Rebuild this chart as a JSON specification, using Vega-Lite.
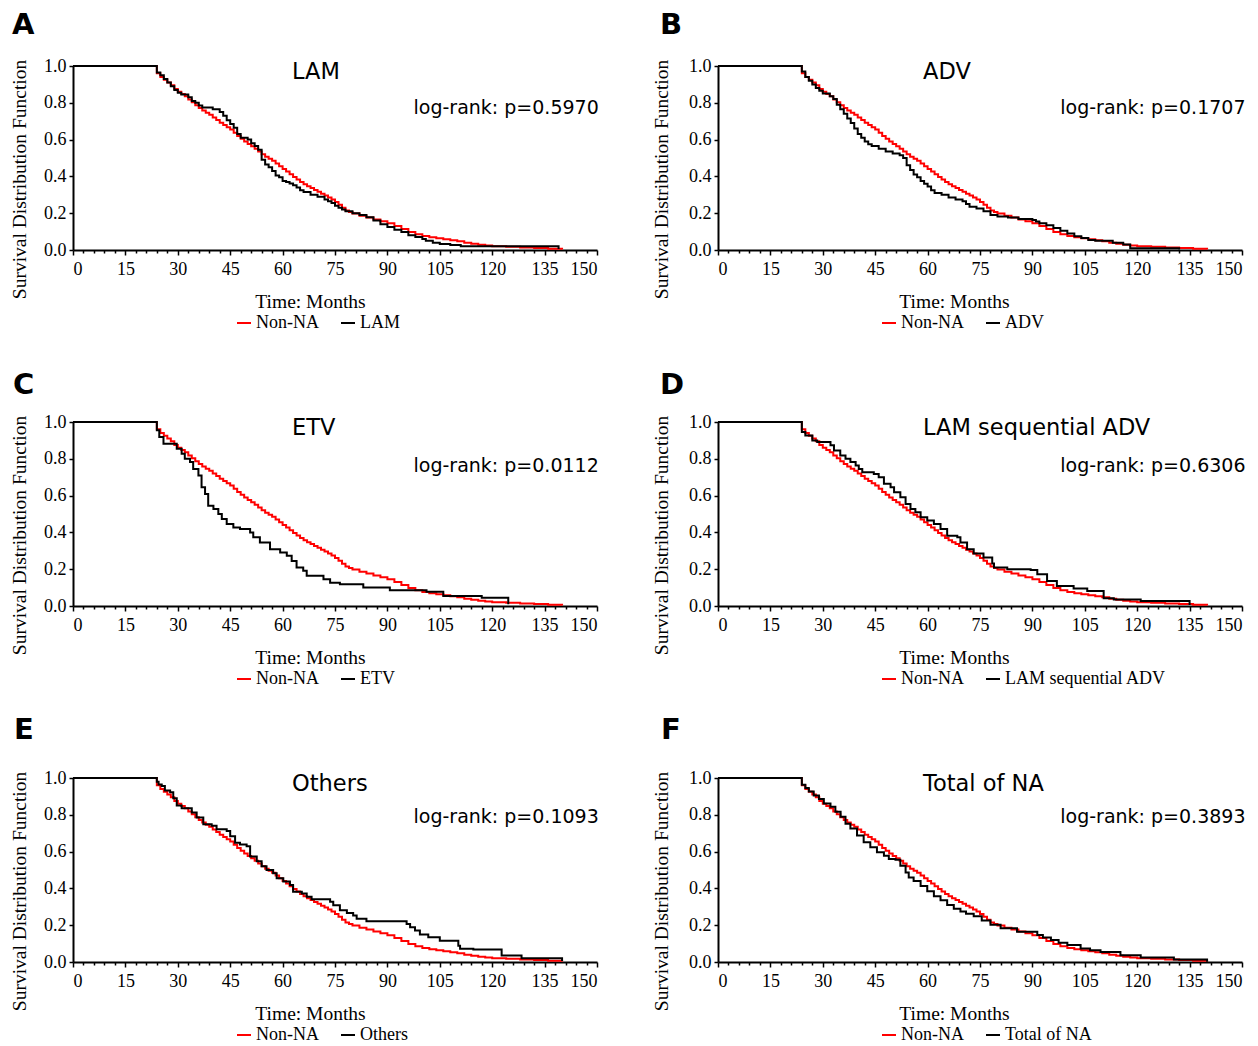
{
  "$schema": "https://vega.github.io/schema/vega-lite/v6.json",
  "padding": {"left": 8, "top": 11, "right": 0, "bottom": 0},
  "bounds": "flush",
  "columns": 2,
  "spacing": {"row": 172, "column": 121},
  "resolve": {"scale": {"color": "independent"}, "legend": {"color": "independent"}},
  "datasets": {
    "nonna": [
      {"g":"Non-NA","t":0,"s":1},{"g":"Non-NA","t":24,"s":0.96},{"g":"Non-NA","t":25,"s":0.94},{"g":"Non-NA","t":26,"s":0.925},{"g":"Non-NA","t":27,"s":0.91},{"g":"Non-NA","t":28,"s":0.895},{"g":"Non-NA","t":29,"s":0.875},{"g":"Non-NA","t":30,"s":0.86},{"g":"Non-NA","t":31,"s":0.848},{"g":"Non-NA","t":32,"s":0.835},{"g":"Non-NA","t":33,"s":0.818},{"g":"Non-NA","t":34,"s":0.803},{"g":"Non-NA","t":35,"s":0.787},{"g":"Non-NA","t":36,"s":0.772},{"g":"Non-NA","t":37,"s":0.758},{"g":"Non-NA","t":38,"s":0.746},{"g":"Non-NA","t":39,"s":0.735},{"g":"Non-NA","t":40,"s":0.72},{"g":"Non-NA","t":41,"s":0.706},{"g":"Non-NA","t":42,"s":0.692},{"g":"Non-NA","t":43,"s":0.68},{"g":"Non-NA","t":44,"s":0.667},{"g":"Non-NA","t":45,"s":0.655},{"g":"Non-NA","t":46,"s":0.637},{"g":"Non-NA","t":47,"s":0.62},{"g":"Non-NA","t":48,"s":0.605},{"g":"Non-NA","t":49,"s":0.59},{"g":"Non-NA","t":50,"s":0.576},{"g":"Non-NA","t":51,"s":0.564},{"g":"Non-NA","t":52,"s":0.55},{"g":"Non-NA","t":53,"s":0.535},{"g":"Non-NA","t":54,"s":0.52},{"g":"Non-NA","t":55,"s":0.507},{"g":"Non-NA","t":56,"s":0.496},{"g":"Non-NA","t":57,"s":0.485},{"g":"Non-NA","t":58,"s":0.47},{"g":"Non-NA","t":59,"s":0.455},{"g":"Non-NA","t":60,"s":0.44},{"g":"Non-NA","t":61,"s":0.426},{"g":"Non-NA","t":62,"s":0.412},{"g":"Non-NA","t":63,"s":0.397},{"g":"Non-NA","t":64,"s":0.383},{"g":"Non-NA","t":65,"s":0.37},{"g":"Non-NA","t":66,"s":0.358},{"g":"Non-NA","t":67,"s":0.347},{"g":"Non-NA","t":68,"s":0.337},{"g":"Non-NA","t":69,"s":0.326},{"g":"Non-NA","t":70,"s":0.316},{"g":"Non-NA","t":71,"s":0.306},{"g":"Non-NA","t":72,"s":0.296},{"g":"Non-NA","t":73,"s":0.286},{"g":"Non-NA","t":74,"s":0.274},{"g":"Non-NA","t":75,"s":0.261},{"g":"Non-NA","t":76,"s":0.246},{"g":"Non-NA","t":77,"s":0.23},{"g":"Non-NA","t":78,"s":0.215},{"g":"Non-NA","t":79,"s":0.206},{"g":"Non-NA","t":80,"s":0.198},{"g":"Non-NA","t":82,"s":0.186},{"g":"Non-NA","t":84,"s":0.176},{"g":"Non-NA","t":86,"s":0.166},{"g":"Non-NA","t":88,"s":0.156},{"g":"Non-NA","t":90,"s":0.145},{"g":"Non-NA","t":92,"s":0.13},{"g":"Non-NA","t":94,"s":0.114},{"g":"Non-NA","t":96,"s":0.098},{"g":"Non-NA","t":98,"s":0.086},{"g":"Non-NA","t":100,"s":0.076},{"g":"Non-NA","t":102,"s":0.069},{"g":"Non-NA","t":104,"s":0.064},{"g":"Non-NA","t":106,"s":0.058},{"g":"Non-NA","t":108,"s":0.053},{"g":"Non-NA","t":110,"s":0.048},{"g":"Non-NA","t":112,"s":0.04},{"g":"Non-NA","t":114,"s":0.034},{"g":"Non-NA","t":116,"s":0.029},{"g":"Non-NA","t":118,"s":0.025},{"g":"Non-NA","t":120,"s":0.021},{"g":"Non-NA","t":124,"s":0.018},{"g":"Non-NA","t":128,"s":0.014},{"g":"Non-NA","t":132,"s":0.011},{"g":"Non-NA","t":136,"s":0.007},{"g":"Non-NA","t":140,"s":0.003}
    ],
    "groups": [
      {"g":"LAM","t":0,"s":1},{"g":"LAM","t":24,"s":0.965},{"g":"LAM","t":25,"s":0.95},{"g":"LAM","t":26,"s":0.93},{"g":"LAM","t":27,"s":0.91},{"g":"LAM","t":28,"s":0.89},{"g":"LAM","t":29,"s":0.87},{"g":"LAM","t":30,"s":0.855},{"g":"LAM","t":31,"s":0.845},{"g":"LAM","t":33,"s":0.83},{"g":"LAM","t":34,"s":0.81},{"g":"LAM","t":35,"s":0.8},{"g":"LAM","t":36,"s":0.785},{"g":"LAM","t":37,"s":0.775},{"g":"LAM","t":40,"s":0.765},{"g":"LAM","t":42,"s":0.75},{"g":"LAM","t":43,"s":0.73},{"g":"LAM","t":44,"s":0.705},{"g":"LAM","t":45,"s":0.685},{"g":"LAM","t":46,"s":0.665},{"g":"LAM","t":47,"s":0.63},{"g":"LAM","t":48,"s":0.61},{"g":"LAM","t":50,"s":0.6},{"g":"LAM","t":51,"s":0.58},{"g":"LAM","t":52,"s":0.565},{"g":"LAM","t":53,"s":0.545},{"g":"LAM","t":54,"s":0.49},{"g":"LAM","t":55,"s":0.465},{"g":"LAM","t":56,"s":0.45},{"g":"LAM","t":57,"s":0.43},{"g":"LAM","t":58,"s":0.405},{"g":"LAM","t":59,"s":0.395},{"g":"LAM","t":60,"s":0.375},{"g":"LAM","t":61,"s":0.37},{"g":"LAM","t":62,"s":0.362},{"g":"LAM","t":63,"s":0.352},{"g":"LAM","t":64,"s":0.34},{"g":"LAM","t":65,"s":0.325},{"g":"LAM","t":66,"s":0.315},{"g":"LAM","t":68,"s":0.3},{"g":"LAM","t":70,"s":0.29},{"g":"LAM","t":72,"s":0.275},{"g":"LAM","t":73,"s":0.265},{"g":"LAM","t":74,"s":0.255},{"g":"LAM","t":75,"s":0.24},{"g":"LAM","t":76,"s":0.23},{"g":"LAM","t":77,"s":0.22},{"g":"LAM","t":78,"s":0.21},{"g":"LAM","t":80,"s":0.2},{"g":"LAM","t":82,"s":0.19},{"g":"LAM","t":84,"s":0.178},{"g":"LAM","t":86,"s":0.16},{"g":"LAM","t":88,"s":0.14},{"g":"LAM","t":90,"s":0.125},{"g":"LAM","t":92,"s":0.11},{"g":"LAM","t":94,"s":0.098},{"g":"LAM","t":96,"s":0.08},{"g":"LAM","t":98,"s":0.07},{"g":"LAM","t":100,"s":0.06},{"g":"LAM","t":101,"s":0.05},{"g":"LAM","t":103,"s":0.04},{"g":"LAM","t":105,"s":0.033},{"g":"LAM","t":108,"s":0.027},{"g":"LAM","t":111,"s":0.02},{"g":"LAM","t":139,"s":0.02},{"g":"LAM","t":139,"s":0.005},

      {"g":"ADV","t":0,"s":1},{"g":"ADV","t":24,"s":0.97},{"g":"ADV","t":25,"s":0.94},{"g":"ADV","t":26,"s":0.92},{"g":"ADV","t":27,"s":0.9},{"g":"ADV","t":28,"s":0.88},{"g":"ADV","t":29,"s":0.865},{"g":"ADV","t":30,"s":0.85},{"g":"ADV","t":32,"s":0.835},{"g":"ADV","t":33,"s":0.82},{"g":"ADV","t":34,"s":0.79},{"g":"ADV","t":35,"s":0.765},{"g":"ADV","t":36,"s":0.74},{"g":"ADV","t":37,"s":0.715},{"g":"ADV","t":38,"s":0.69},{"g":"ADV","t":39,"s":0.66},{"g":"ADV","t":40,"s":0.63},{"g":"ADV","t":41,"s":0.61},{"g":"ADV","t":42,"s":0.59},{"g":"ADV","t":43,"s":0.575},{"g":"ADV","t":44,"s":0.565},{"g":"ADV","t":46,"s":0.55},{"g":"ADV","t":48,"s":0.535},{"g":"ADV","t":50,"s":0.525},{"g":"ADV","t":52,"s":0.515},{"g":"ADV","t":53,"s":0.5},{"g":"ADV","t":54,"s":0.46},{"g":"ADV","t":55,"s":0.435},{"g":"ADV","t":56,"s":0.41},{"g":"ADV","t":57,"s":0.395},{"g":"ADV","t":58,"s":0.375},{"g":"ADV","t":59,"s":0.36},{"g":"ADV","t":60,"s":0.345},{"g":"ADV","t":61,"s":0.325},{"g":"ADV","t":62,"s":0.31},{"g":"ADV","t":64,"s":0.3},{"g":"ADV","t":66,"s":0.285},{"g":"ADV","t":68,"s":0.275},{"g":"ADV","t":70,"s":0.265},{"g":"ADV","t":71,"s":0.25},{"g":"ADV","t":72,"s":0.235},{"g":"ADV","t":74,"s":0.225},{"g":"ADV","t":76,"s":0.21},{"g":"ADV","t":78,"s":0.19},{"g":"ADV","t":80,"s":0.182},{"g":"ADV","t":83,"s":0.177},{"g":"ADV","t":86,"s":0.168},{"g":"ADV","t":90,"s":0.163},{"g":"ADV","t":91,"s":0.155},{"g":"ADV","t":92,"s":0.145},{"g":"ADV","t":94,"s":0.135},{"g":"ADV","t":96,"s":0.12},{"g":"ADV","t":98,"s":0.105},{"g":"ADV","t":100,"s":0.09},{"g":"ADV","t":102,"s":0.075},{"g":"ADV","t":104,"s":0.065},{"g":"ADV","t":106,"s":0.055},{"g":"ADV","t":108,"s":0.05},{"g":"ADV","t":113,"s":0.04},{"g":"ADV","t":116,"s":0.03},{"g":"ADV","t":118,"s":0.01},{"g":"ADV","t":132,"s":0.01},{"g":"ADV","t":132,"s":0.003},

      {"g":"ETV","t":0,"s":1},{"g":"ETV","t":24,"s":0.955},{"g":"ETV","t":24.7,"s":0.918},{"g":"ETV","t":25.9,"s":0.882},{"g":"ETV","t":29.7,"s":0.855},{"g":"ETV","t":31.1,"s":0.827},{"g":"ETV","t":32,"s":0.8},{"g":"ETV","t":33.5,"s":0.782},{"g":"ETV","t":34.4,"s":0.745},{"g":"ETV","t":35.9,"s":0.709},{"g":"ETV","t":36.8,"s":0.645},{"g":"ETV","t":37.8,"s":0.609},{"g":"ETV","t":38.7,"s":0.545},{"g":"ETV","t":40.2,"s":0.527},{"g":"ETV","t":41.6,"s":0.5},{"g":"ETV","t":42.6,"s":0.473},{"g":"ETV","t":44,"s":0.445},{"g":"ETV","t":45.9,"s":0.427},{"g":"ETV","t":47.8,"s":0.418},{"g":"ETV","t":50.7,"s":0.4},{"g":"ETV","t":51.6,"s":0.373},{"g":"ETV","t":53.5,"s":0.345},{"g":"ETV","t":56.4,"s":0.309},{"g":"ETV","t":59.3,"s":0.291},{"g":"ETV","t":61.2,"s":0.273},{"g":"ETV","t":62.6,"s":0.245},{"g":"ETV","t":64,"s":0.209},{"g":"ETV","t":65.9,"s":0.191},{"g":"ETV","t":66.9,"s":0.164},{"g":"ETV","t":71.7,"s":0.145},{"g":"ETV","t":73.6,"s":0.127},{"g":"ETV","t":76.4,"s":0.118},{"g":"ETV","t":83.1,"s":0.1},{"g":"ETV","t":90.7,"s":0.085},{"g":"ETV","t":101.2,"s":0.078},{"g":"ETV","t":106,"s":0.055},{"g":"ETV","t":117,"s":0.045},{"g":"ETV","t":124.6,"s":0.027},{"g":"ETV","t":124.6,"s":0.01},

      {"g":"LAM sequential ADV","t":0,"s":1},{"g":"LAM sequential ADV","t":24,"s":0.945},{"g":"LAM sequential ADV","t":25,"s":0.927},{"g":"LAM sequential ADV","t":27,"s":0.9},{"g":"LAM sequential ADV","t":28.4,"s":0.891},{"g":"LAM sequential ADV","t":32.2,"s":0.873},{"g":"LAM sequential ADV","t":33.2,"s":0.845},{"g":"LAM sequential ADV","t":35,"s":0.818},{"g":"LAM sequential ADV","t":36.5,"s":0.8},{"g":"LAM sequential ADV","t":37.9,"s":0.782},{"g":"LAM sequential ADV","t":39.4,"s":0.764},{"g":"LAM sequential ADV","t":40.3,"s":0.745},{"g":"LAM sequential ADV","t":41.3,"s":0.727},{"g":"LAM sequential ADV","t":44.6,"s":0.718},{"g":"LAM sequential ADV","t":46,"s":0.7},{"g":"LAM sequential ADV","t":47.5,"s":0.664},{"g":"LAM sequential ADV","t":49.4,"s":0.645},{"g":"LAM sequential ADV","t":50.4,"s":0.618},{"g":"LAM sequential ADV","t":52.2,"s":0.591},{"g":"LAM sequential ADV","t":53.7,"s":0.555},{"g":"LAM sequential ADV","t":55.1,"s":0.527},{"g":"LAM sequential ADV","t":56.5,"s":0.509},{"g":"LAM sequential ADV","t":58,"s":0.482},{"g":"LAM sequential ADV","t":59.9,"s":0.464},{"g":"LAM sequential ADV","t":61.8,"s":0.445},{"g":"LAM sequential ADV","t":63.7,"s":0.418},{"g":"LAM sequential ADV","t":65.6,"s":0.382},{"g":"LAM sequential ADV","t":68.5,"s":0.373},{"g":"LAM sequential ADV","t":69.4,"s":0.345},{"g":"LAM sequential ADV","t":71.3,"s":0.309},{"g":"LAM sequential ADV","t":73.2,"s":0.285},{"g":"LAM sequential ADV","t":76,"s":0.264},{"g":"LAM sequential ADV","t":78.5,"s":0.231},{"g":"LAM sequential ADV","t":79,"s":0.209},{"g":"LAM sequential ADV","t":82.8,"s":0.2},{"g":"LAM sequential ADV","t":89.5,"s":0.195},{"g":"LAM sequential ADV","t":91.4,"s":0.173},{"g":"LAM sequential ADV","t":94.2,"s":0.136},{"g":"LAM sequential ADV","t":97,"s":0.109},{"g":"LAM sequential ADV","t":101.8,"s":0.095},{"g":"LAM sequential ADV","t":105.7,"s":0.082},{"g":"LAM sequential ADV","t":110.4,"s":0.042},{"g":"LAM sequential ADV","t":113.3,"s":0.036},{"g":"LAM sequential ADV","t":121,"s":0.027},{"g":"LAM sequential ADV","t":135,"s":0.018},{"g":"LAM sequential ADV","t":135,"s":0.005},

      {"g":"Others","t":0,"s":1},{"g":"Others","t":24,"s":0.98},{"g":"Others","t":24.5,"s":0.965},{"g":"Others","t":25.4,"s":0.956},{"g":"Others","t":26.3,"s":0.932},{"g":"Others","t":27.8,"s":0.923},{"g":"Others","t":28.7,"s":0.89},{"g":"Others","t":29.7,"s":0.85},{"g":"Others","t":31.1,"s":0.835},{"g":"Others","t":34,"s":0.813},{"g":"Others","t":35.4,"s":0.785},{"g":"Others","t":37.3,"s":0.749},{"g":"Others","t":39.7,"s":0.74},{"g":"Others","t":41.1,"s":0.721},{"g":"Others","t":44,"s":0.712},{"g":"Others","t":45,"s":0.684},{"g":"Others","t":46.4,"s":0.648},{"g":"Others","t":47.8,"s":0.639},{"g":"Others","t":49.7,"s":0.629},{"g":"Others","t":50.7,"s":0.574},{"g":"Others","t":52.6,"s":0.547},{"g":"Others","t":54,"s":0.52},{"g":"Others","t":55.4,"s":0.5},{"g":"Others","t":57.3,"s":0.483},{"g":"Others","t":58.3,"s":0.455},{"g":"Others","t":60.2,"s":0.437},{"g":"Others","t":62.1,"s":0.418},{"g":"Others","t":63,"s":0.382},{"g":"Others","t":65.5,"s":0.372},{"g":"Others","t":66.9,"s":0.354},{"g":"Others","t":68.3,"s":0.341},{"g":"Others","t":73.6,"s":0.327},{"g":"Others","t":74.5,"s":0.308},{"g":"Others","t":76.4,"s":0.281},{"g":"Others","t":78.4,"s":0.266},{"g":"Others","t":80.2,"s":0.253},{"g":"Others","t":81.2,"s":0.235},{"g":"Others","t":84,"s":0.222},{"g":"Others","t":95.5,"s":0.207},{"g":"Others","t":96.5,"s":0.189},{"g":"Others","t":97.9,"s":0.171},{"g":"Others","t":99.3,"s":0.149},{"g":"Others","t":101.7,"s":0.134},{"g":"Others","t":105,"s":0.116},{"g":"Others","t":110.3,"s":0.088},{"g":"Others","t":110.8,"s":0.072},{"g":"Others","t":114.6,"s":0.068},{"g":"Others","t":122.7,"s":0.035},{"g":"Others","t":128.4,"s":0.02},{"g":"Others","t":140,"s":0.02},{"g":"Others","t":140,"s":0.005},

      {"g":"Total of NA","t":0,"s":1},{"g":"Total of NA","t":24,"s":0.963},{"g":"Total of NA","t":25,"s":0.945},{"g":"Total of NA","t":26,"s":0.927},{"g":"Total of NA","t":27.4,"s":0.905},{"g":"Total of NA","t":28.9,"s":0.886},{"g":"Total of NA","t":30.3,"s":0.862},{"g":"Total of NA","t":32.2,"s":0.844},{"g":"Total of NA","t":33.6,"s":0.817},{"g":"Total of NA","t":35.1,"s":0.789},{"g":"Total of NA","t":36.5,"s":0.752},{"g":"Total of NA","t":37.9,"s":0.725},{"g":"Total of NA","t":39.8,"s":0.688},{"g":"Total of NA","t":41.7,"s":0.651},{"g":"Total of NA","t":43.6,"s":0.624},{"g":"Total of NA","t":45.5,"s":0.596},{"g":"Total of NA","t":47.5,"s":0.578},{"g":"Total of NA","t":48.9,"s":0.56},{"g":"Total of NA","t":50.8,"s":0.556},{"g":"Total of NA","t":52.2,"s":0.523},{"g":"Total of NA","t":53.7,"s":0.486},{"g":"Total of NA","t":54.6,"s":0.459},{"g":"Total of NA","t":56,"s":0.44},{"g":"Total of NA","t":58,"s":0.413},{"g":"Total of NA","t":59.9,"s":0.385},{"g":"Total of NA","t":61.8,"s":0.358},{"g":"Total of NA","t":63.7,"s":0.335},{"g":"Total of NA","t":65.6,"s":0.31},{"g":"Total of NA","t":67.5,"s":0.29},{"g":"Total of NA","t":69.4,"s":0.275},{"g":"Total of NA","t":71,"s":0.262},{"g":"Total of NA","t":73.2,"s":0.248},{"g":"Total of NA","t":75.5,"s":0.225},{"g":"Total of NA","t":78,"s":0.202},{"g":"Total of NA","t":80.9,"s":0.183},{"g":"Total of NA","t":85.6,"s":0.165},{"g":"Total of NA","t":91.4,"s":0.147},{"g":"Total of NA","t":93,"s":0.133},{"g":"Total of NA","t":95.3,"s":0.119},{"g":"Total of NA","t":97.5,"s":0.105},{"g":"Total of NA","t":100,"s":0.092},{"g":"Total of NA","t":103.8,"s":0.073},{"g":"Total of NA","t":106.5,"s":0.064},{"g":"Total of NA","t":109.5,"s":0.055},{"g":"Total of NA","t":115.2,"s":0.037},{"g":"Total of NA","t":121,"s":0.024},{"g":"Total of NA","t":130.5,"s":0.013},{"g":"Total of NA","t":140,"s":0.006},{"g":"Total of NA","t":140,"s":0.002}
    ]
  },
  "concat": [
    {
      "width": 524, "height": 184,
      "title": {"text": "A", "offset": 17, "dx": -61},
      "resolve": {"axis": {"x": "independent", "y": "independent"}},
      "layer": [
        {"data": {"name": "nonna"}, "mark": "line",
         "encoding": {
           "x": {"field": "t", "type": "quantitative", "scale": {"domain": [0, 150], "nice": false}, "axis": {"values": [0,15,30,45,60,75,90,105,120,135,150], "title": "Time: Months", "tickSize": 5, "labelPadding": 5, "titleX": 237, "titleY": 57, "titleBaseline": "alphabetic"}},
           "y": {"field": "s", "type": "quantitative", "scale": {"domain": [0, 1], "nice": false}, "axis": {"values": [0,0.2,0.4,0.6,0.8,1], "format": ".1f", "labelOverlap": false, "title": "Survival Distribution Function", "tickSize": 4, "labelPadding": 3, "titleX": -48, "titleY": 113, "titleBaseline": "alphabetic"}},
           "color": {"field": "g", "type": "nominal", "scale": {"domain": ["Non-NA", "LAM"], "range": ["#ff0000", "#000000"]}, "legend": {"orient": "none", "legendX": 162, "legendY": 248, "direction": "horizontal", "title": null}}
         }},
        {"data": {"name": "groups"}, "transform": [{"filter": "datum.g === 'LAM'"}], "mark": "line",
         "encoding": {
           "x": {"field": "t", "type": "quantitative", "scale": {"domain": [0, 150], "nice": false}, "axis": {"orient": "bottom", "values": [3,6,9,12,18,21,24,27,33,36,39,42,48,51,54,57,63,66,69,72,78,81,84,87,93,96,99,102,108,111,114,117,123,126,129,132,138,141,144,147], "labels": false, "domain": false, "tickSize": 3, "title": null}},
           "y": {"field": "s", "type": "quantitative", "scale": {"domain": [0, 1], "nice": false}, "axis": null},
           "color": {"field": "g", "type": "nominal"}
         }},
        {"data": {"values": [{}]}, "mark": {"type": "text", "text": "LAM", "fontSize": 22.5, "align": "left"},
         "encoding": {"x": {"datum": 62.7, "type": "quantitative", "scale": {"domain": [0, 150], "nice": false}, "axis": null}, "y": {"datum": 0.927, "type": "quantitative", "scale": {"domain": [0, 1], "nice": false}, "axis": null}}},
        {"data": {"values": [{}]}, "mark": {"type": "text", "text": "log-rank: p=0.5970", "fontSize": 19, "align": "right"},
         "encoding": {"x": {"datum": 150.5, "type": "quantitative", "scale": {"domain": [0, 150], "nice": false}, "axis": null}, "y": {"datum": 0.74, "type": "quantitative", "scale": {"domain": [0, 1], "nice": false}, "axis": null}}}
      ]
    },
    {
      "width": 524, "height": 184,
      "title": {"text": "B", "offset": 17, "dx": -58},
      "resolve": {"axis": {"x": "independent", "y": "independent"}},
      "layer": [
        {"data": {"name": "nonna"}, "mark": "line",
         "encoding": {
           "x": {"field": "t", "type": "quantitative", "scale": {"domain": [0, 150], "nice": false}, "axis": {"values": [0,15,30,45,60,75,90,105,120,135,150], "title": "Time: Months", "tickSize": 5, "labelPadding": 5, "titleX": 236, "titleY": 57, "titleBaseline": "alphabetic"}},
           "y": {"field": "s", "type": "quantitative", "scale": {"domain": [0, 1], "nice": false}, "axis": {"values": [0,0.2,0.4,0.6,0.8,1], "format": ".1f", "labelOverlap": false, "title": "Survival Distribution Function", "tickSize": 4, "labelPadding": 3, "titleX": -51, "titleY": 113, "titleBaseline": "alphabetic"}},
           "color": {"field": "g", "type": "nominal", "scale": {"domain": ["Non-NA", "ADV"], "range": ["#ff0000", "#000000"]}, "legend": {"orient": "none", "legendX": 162, "legendY": 248, "direction": "horizontal", "title": null}}
         }},
        {"data": {"name": "groups"}, "transform": [{"filter": "datum.g === 'ADV'"}], "mark": "line",
         "encoding": {
           "x": {"field": "t", "type": "quantitative", "scale": {"domain": [0, 150], "nice": false}, "axis": {"orient": "bottom", "values": [3,6,9,12,18,21,24,27,33,36,39,42,48,51,54,57,63,66,69,72,78,81,84,87,93,96,99,102,108,111,114,117,123,126,129,132,138,141,144,147], "labels": false, "domain": false, "tickSize": 3, "title": null}},
           "y": {"field": "s", "type": "quantitative", "scale": {"domain": [0, 1], "nice": false}, "axis": null},
           "color": {"field": "g", "type": "nominal"}
         }},
        {"data": {"values": [{}]}, "mark": {"type": "text", "text": "ADV", "fontSize": 22.5, "align": "left"},
         "encoding": {"x": {"datum": 58.7, "type": "quantitative", "scale": {"domain": [0, 150], "nice": false}, "axis": null}, "y": {"datum": 0.927, "type": "quantitative", "scale": {"domain": [0, 1], "nice": false}, "axis": null}}},
        {"data": {"values": [{}]}, "mark": {"type": "text", "text": "log-rank: p=0.1707", "fontSize": 19, "align": "right"},
         "encoding": {"x": {"datum": 151, "type": "quantitative", "scale": {"domain": [0, 150], "nice": false}, "axis": null}, "y": {"datum": 0.74, "type": "quantitative", "scale": {"domain": [0, 1], "nice": false}, "axis": null}}}
      ]
    },
    {
      "width": 524, "height": 184,
      "title": {"text": "C", "offset": 13, "dx": -60},
      "resolve": {"axis": {"x": "independent", "y": "independent"}},
      "layer": [
        {"data": {"name": "nonna"}, "mark": "line",
         "encoding": {
           "x": {"field": "t", "type": "quantitative", "scale": {"domain": [0, 150], "nice": false}, "axis": {"values": [0,15,30,45,60,75,90,105,120,135,150], "title": "Time: Months", "tickSize": 5, "labelPadding": 5, "titleX": 237, "titleY": 57, "titleBaseline": "alphabetic"}},
           "y": {"field": "s", "type": "quantitative", "scale": {"domain": [0, 1], "nice": false}, "axis": {"values": [0,0.2,0.4,0.6,0.8,1], "format": ".1f", "labelOverlap": false, "title": "Survival Distribution Function", "tickSize": 4, "labelPadding": 3, "titleX": -48, "titleY": 113, "titleBaseline": "alphabetic"}},
           "color": {"field": "g", "type": "nominal", "scale": {"domain": ["Non-NA", "ETV"], "range": ["#ff0000", "#000000"]}, "legend": {"orient": "none", "legendX": 162, "legendY": 248, "direction": "horizontal", "title": null}}
         }},
        {"data": {"name": "groups"}, "transform": [{"filter": "datum.g === 'ETV'"}], "mark": "line",
         "encoding": {
           "x": {"field": "t", "type": "quantitative", "scale": {"domain": [0, 150], "nice": false}, "axis": {"orient": "bottom", "values": [3,6,9,12,18,21,24,27,33,36,39,42,48,51,54,57,63,66,69,72,78,81,84,87,93,96,99,102,108,111,114,117,123,126,129,132,138,141,144,147], "labels": false, "domain": false, "tickSize": 3, "title": null}},
           "y": {"field": "s", "type": "quantitative", "scale": {"domain": [0, 1], "nice": false}, "axis": null},
           "color": {"field": "g", "type": "nominal"}
         }},
        {"data": {"values": [{}]}, "mark": {"type": "text", "text": "ETV", "fontSize": 22.5, "align": "left"},
         "encoding": {"x": {"datum": 62.7, "type": "quantitative", "scale": {"domain": [0, 150], "nice": false}, "axis": null}, "y": {"datum": 0.927, "type": "quantitative", "scale": {"domain": [0, 1], "nice": false}, "axis": null}}},
        {"data": {"values": [{}]}, "mark": {"type": "text", "text": "log-rank: p=0.0112", "fontSize": 19, "align": "right"},
         "encoding": {"x": {"datum": 150.5, "type": "quantitative", "scale": {"domain": [0, 150], "nice": false}, "axis": null}, "y": {"datum": 0.73, "type": "quantitative", "scale": {"domain": [0, 1], "nice": false}, "axis": null}}}
      ]
    },
    {
      "width": 524, "height": 184,
      "title": {"text": "D", "offset": 13, "dx": -58},
      "resolve": {"axis": {"x": "independent", "y": "independent"}},
      "layer": [
        {"data": {"name": "nonna"}, "mark": "line",
         "encoding": {
           "x": {"field": "t", "type": "quantitative", "scale": {"domain": [0, 150], "nice": false}, "axis": {"values": [0,15,30,45,60,75,90,105,120,135,150], "title": "Time: Months", "tickSize": 5, "labelPadding": 5, "titleX": 236, "titleY": 57, "titleBaseline": "alphabetic"}},
           "y": {"field": "s", "type": "quantitative", "scale": {"domain": [0, 1], "nice": false}, "axis": {"values": [0,0.2,0.4,0.6,0.8,1], "format": ".1f", "labelOverlap": false, "title": "Survival Distribution Function", "tickSize": 4, "labelPadding": 3, "titleX": -51, "titleY": 113, "titleBaseline": "alphabetic"}},
           "color": {"field": "g", "type": "nominal", "scale": {"domain": ["Non-NA", "LAM sequential ADV"], "range": ["#ff0000", "#000000"]}, "legend": {"orient": "none", "legendX": 162, "legendY": 248, "direction": "horizontal", "title": null}}
         }},
        {"data": {"name": "groups"}, "transform": [{"filter": "datum.g === 'LAM sequential ADV'"}], "mark": "line",
         "encoding": {
           "x": {"field": "t", "type": "quantitative", "scale": {"domain": [0, 150], "nice": false}, "axis": {"orient": "bottom", "values": [3,6,9,12,18,21,24,27,33,36,39,42,48,51,54,57,63,66,69,72,78,81,84,87,93,96,99,102,108,111,114,117,123,126,129,132,138,141,144,147], "labels": false, "domain": false, "tickSize": 3, "title": null}},
           "y": {"field": "s", "type": "quantitative", "scale": {"domain": [0, 1], "nice": false}, "axis": null},
           "color": {"field": "g", "type": "nominal"}
         }},
        {"data": {"values": [{}]}, "mark": {"type": "text", "text": "LAM sequential ADV", "fontSize": 22.5, "align": "left"},
         "encoding": {"x": {"datum": 58.7, "type": "quantitative", "scale": {"domain": [0, 150], "nice": false}, "axis": null}, "y": {"datum": 0.927, "type": "quantitative", "scale": {"domain": [0, 1], "nice": false}, "axis": null}}},
        {"data": {"values": [{}]}, "mark": {"type": "text", "text": "log-rank: p=0.6306", "fontSize": 19, "align": "right"},
         "encoding": {"x": {"datum": 151, "type": "quantitative", "scale": {"domain": [0, 150], "nice": false}, "axis": null}, "y": {"datum": 0.73, "type": "quantitative", "scale": {"domain": [0, 1], "nice": false}, "axis": null}}}
      ]
    },
    {
      "width": 524, "height": 184,
      "title": {"text": "E", "offset": 24, "dx": -59},
      "resolve": {"axis": {"x": "independent", "y": "independent"}},
      "layer": [
        {"data": {"name": "nonna"}, "mark": "line",
         "encoding": {
           "x": {"field": "t", "type": "quantitative", "scale": {"domain": [0, 150], "nice": false}, "axis": {"values": [0,15,30,45,60,75,90,105,120,135,150], "title": "Time: Months", "tickSize": 5, "labelPadding": 5, "titleX": 237, "titleY": 57, "titleBaseline": "alphabetic"}},
           "y": {"field": "s", "type": "quantitative", "scale": {"domain": [0, 1], "nice": false}, "axis": {"values": [0,0.2,0.4,0.6,0.8,1], "format": ".1f", "labelOverlap": false, "title": "Survival Distribution Function", "tickSize": 4, "labelPadding": 3, "titleX": -48, "titleY": 113, "titleBaseline": "alphabetic"}},
           "color": {"field": "g", "type": "nominal", "scale": {"domain": ["Non-NA", "Others"], "range": ["#ff0000", "#000000"]}, "legend": {"orient": "none", "legendX": 162, "legendY": 248, "direction": "horizontal", "title": null}}
         }},
        {"data": {"name": "groups"}, "transform": [{"filter": "datum.g === 'Others'"}], "mark": "line",
         "encoding": {
           "x": {"field": "t", "type": "quantitative", "scale": {"domain": [0, 150], "nice": false}, "axis": {"orient": "bottom", "values": [3,6,9,12,18,21,24,27,33,36,39,42,48,51,54,57,63,66,69,72,78,81,84,87,93,96,99,102,108,111,114,117,123,126,129,132,138,141,144,147], "labels": false, "domain": false, "tickSize": 3, "title": null}},
           "y": {"field": "s", "type": "quantitative", "scale": {"domain": [0, 1], "nice": false}, "axis": null},
           "color": {"field": "g", "type": "nominal"}
         }},
        {"data": {"values": [{}]}, "mark": {"type": "text", "text": "Others", "fontSize": 22.5, "align": "left"},
         "encoding": {"x": {"datum": 62.7, "type": "quantitative", "scale": {"domain": [0, 150], "nice": false}, "axis": null}, "y": {"datum": 0.927, "type": "quantitative", "scale": {"domain": [0, 1], "nice": false}, "axis": null}}},
        {"data": {"values": [{}]}, "mark": {"type": "text", "text": "log-rank: p=0.1093", "fontSize": 19, "align": "right"},
         "encoding": {"x": {"datum": 150.5, "type": "quantitative", "scale": {"domain": [0, 150], "nice": false}, "axis": null}, "y": {"datum": 0.755, "type": "quantitative", "scale": {"domain": [0, 1], "nice": false}, "axis": null}}}
      ]
    },
    {
      "width": 524, "height": 184,
      "title": {"text": "F", "offset": 24, "dx": -57},
      "resolve": {"axis": {"x": "independent", "y": "independent"}},
      "layer": [
        {"data": {"name": "nonna"}, "mark": "line",
         "encoding": {
           "x": {"field": "t", "type": "quantitative", "scale": {"domain": [0, 150], "nice": false}, "axis": {"values": [0,15,30,45,60,75,90,105,120,135,150], "title": "Time: Months", "tickSize": 5, "labelPadding": 5, "titleX": 236, "titleY": 57, "titleBaseline": "alphabetic"}},
           "y": {"field": "s", "type": "quantitative", "scale": {"domain": [0, 1], "nice": false}, "axis": {"values": [0,0.2,0.4,0.6,0.8,1], "format": ".1f", "labelOverlap": false, "title": "Survival Distribution Function", "tickSize": 4, "labelPadding": 3, "titleX": -51, "titleY": 113, "titleBaseline": "alphabetic"}},
           "color": {"field": "g", "type": "nominal", "scale": {"domain": ["Non-NA", "Total of NA"], "range": ["#ff0000", "#000000"]}, "legend": {"orient": "none", "legendX": 162, "legendY": 248, "direction": "horizontal", "title": null}}
         }},
        {"data": {"name": "groups"}, "transform": [{"filter": "datum.g === 'Total of NA'"}], "mark": "line",
         "encoding": {
           "x": {"field": "t", "type": "quantitative", "scale": {"domain": [0, 150], "nice": false}, "axis": {"orient": "bottom", "values": [3,6,9,12,18,21,24,27,33,36,39,42,48,51,54,57,63,66,69,72,78,81,84,87,93,96,99,102,108,111,114,117,123,126,129,132,138,141,144,147], "labels": false, "domain": false, "tickSize": 3, "title": null}},
           "y": {"field": "s", "type": "quantitative", "scale": {"domain": [0, 1], "nice": false}, "axis": null},
           "color": {"field": "g", "type": "nominal"}
         }},
        {"data": {"values": [{}]}, "mark": {"type": "text", "text": "Total of NA", "fontSize": 22.5, "align": "left"},
         "encoding": {"x": {"datum": 58.7, "type": "quantitative", "scale": {"domain": [0, 150], "nice": false}, "axis": null}, "y": {"datum": 0.927, "type": "quantitative", "scale": {"domain": [0, 1], "nice": false}, "axis": null}}},
        {"data": {"values": [{}]}, "mark": {"type": "text", "text": "log-rank: p=0.3893", "fontSize": 19, "align": "right"},
         "encoding": {"x": {"datum": 151, "type": "quantitative", "scale": {"domain": [0, 150], "nice": false}, "axis": null}, "y": {"datum": 0.755, "type": "quantitative", "scale": {"domain": [0, 1], "nice": false}, "axis": null}}}
      ]
    }
  ],
  "config": {
    "view": {"stroke": null},
    "font": "Liberation Serif",
    "line": {"strokeWidth": 2, "interpolate": "step-after"},
    "text": {"font": "DejaVu Sans", "color": "#000000", "baseline": "alphabetic"},
    "axis": {"grid": false, "labelOverlap": false, "domainColor": "#000000", "domainWidth": 2, "tickColor": "#000000", "tickWidth": 1.5, "labelColor": "#000000", "labelFont": "Liberation Serif", "labelFontSize": 18, "titleFont": "Liberation Serif", "titleFontSize": 19.5, "titleFontWeight": "normal", "titleColor": "#000000"},
    "legend": {"symbolType": "stroke", "symbolSize": 196, "symbolStrokeWidth": 2.5, "labelFont": "Liberation Serif", "labelFontSize": 18, "labelColor": "#000000", "labelLimit": 0, "columnPadding": 18, "labelOffset": 3, "padding": 0},
    "title": {"anchor": "start", "frame": "group", "font": "DejaVu Sans", "fontSize": 29, "fontWeight": "bold", "color": "#000000", "baseline": "alphabetic"}
  }
}
